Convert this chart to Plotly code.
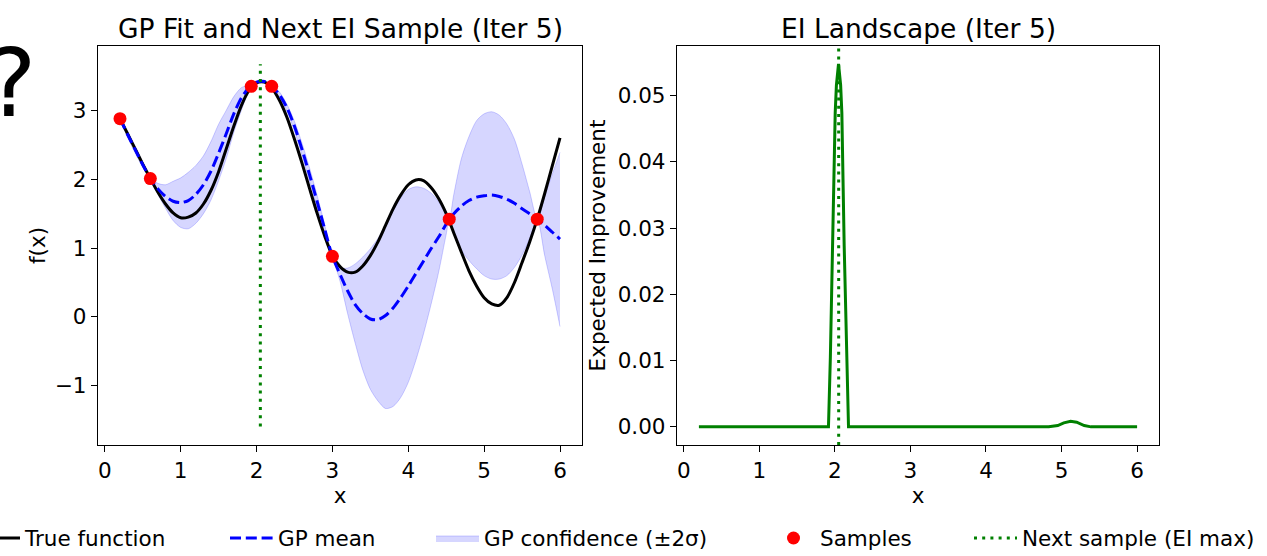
import plotly.graph_objects as go

# ---------------- data ----------------
true_x = [0.2, 0.3, 0.4, 0.5, 0.6, 0.7, 0.8, 0.9, 1.0, 1.1, 1.2, 1.3, 1.4, 1.5, 1.6, 1.7, 1.8, 1.9, 2.0,
          2.1, 2.2, 2.3, 2.4, 2.5, 2.6, 2.7, 2.8, 2.9, 3.0, 3.1, 3.2, 3.3, 3.4, 3.5, 3.6, 3.7, 3.8, 3.9,
          4.0, 4.1, 4.2, 4.3, 4.4, 4.5, 4.6, 4.7, 4.8, 4.9, 5.0, 5.1, 5.2, 5.3, 5.4, 5.5, 5.6, 5.7, 5.8,
          5.9, 6.0]
true_f = [2.88, 2.66, 2.44, 2.22, 2.01, 1.81, 1.64, 1.51, 1.44, 1.45, 1.51, 1.64, 1.84, 2.11, 2.44, 2.77, 3.07, 3.29, 3.40,
          3.41, 3.33, 3.15, 2.90, 2.58, 2.23, 1.86, 1.50, 1.17, 0.89, 0.73, 0.65, 0.65, 0.74, 0.89, 1.09, 1.33, 1.57, 1.77,
          1.92, 1.99, 1.98, 1.88, 1.72, 1.50, 1.22, 0.94, 0.67, 0.45, 0.28, 0.19, 0.17, 0.28, 0.50, 0.79, 1.09, 1.42, 1.80,
          2.20, 2.60]

band_x = [0.2, 0.3, 0.4, 0.5, 0.6, 0.7, 0.8, 0.9, 1.0, 1.1, 1.2, 1.3, 1.4, 1.5, 1.6, 1.7, 1.8, 1.9, 2.0,
          2.1, 2.2, 2.3, 2.4, 2.5, 2.6, 2.7, 2.8, 2.9, 3.0, 3.1, 3.2, 3.3, 3.4, 3.5, 3.6, 3.7, 3.8, 3.9,
          4.0, 4.1, 4.2, 4.3, 4.4, 4.5, 4.54, 4.6, 4.7, 4.8, 4.9, 5.0, 5.1, 5.2, 5.3, 5.4, 5.5, 5.6, 5.7,
          5.8, 5.9, 6.0]
gp_mean = [2.88, 2.65, 2.43, 2.21, 2.01, 1.86, 1.75, 1.68, 1.66, 1.69, 1.78, 1.92, 2.12, 2.38, 2.66, 2.95, 3.18, 3.33, 3.41,
           3.42, 3.35, 3.23, 3.04, 2.77, 2.43, 2.06, 1.67, 1.27, 0.88, 0.62, 0.38, 0.18, 0.05, -0.03, -0.04, 0.02, 0.13, 0.28,
           0.45, 0.63, 0.81, 0.99, 1.16, 1.35, 1.42, 1.50, 1.61, 1.69, 1.74, 1.76, 1.77, 1.75, 1.71, 1.65, 1.57, 1.50, 1.42,
           1.33, 1.23, 1.13]
gp_upper = [2.89, 2.69, 2.48, 2.25, 2.02, 1.94, 1.92, 1.97, 2.02, 2.10, 2.20, 2.34, 2.55, 2.80, 3.00, 3.20, 3.33, 3.37, 3.42,
            3.44, 3.36, 3.27, 3.09, 2.84, 2.52, 2.16, 1.76, 1.33, 0.89, 0.72, 0.71, 0.77, 0.87, 0.99, 1.14, 1.33, 1.54, 1.73,
            1.85, 1.89, 1.87, 1.80, 1.67, 1.50, 1.43, 1.78, 2.30, 2.62, 2.85, 2.95, 2.98, 2.93, 2.80, 2.58, 2.22, 1.82, 1.43,
            1.76, 2.08, 2.39]
gp_lower = [2.87, 2.61, 2.38, 2.17, 2.00, 1.78, 1.58, 1.40, 1.30, 1.28, 1.36, 1.50, 1.70, 1.98, 2.30, 2.68, 3.00, 3.28, 3.40,
            3.40, 3.34, 3.19, 2.99, 2.70, 2.34, 1.96, 1.58, 1.21, 0.87, 0.52, 0.05, -0.38, -0.77, -1.05, -1.22, -1.33, -1.30, -1.17,
            -0.95, -0.63, -0.25, 0.18, 0.65, 1.20, 1.41, 1.20, 0.97, 0.82, 0.70, 0.60, 0.55, 0.55, 0.60, 0.72, 0.90, 1.14, 1.41,
            0.88, 0.40, -0.14]

sample_x = [0.2, 0.6, 1.93, 2.2, 3.0, 4.54, 5.7]
sample_y = [2.88, 2.01, 3.35, 3.35, 0.88, 1.42, 1.42]

next_x = 2.05
next_line_y = [-1.59, 3.67]

ei_x = [0.2, 1.915, 1.94, 1.968, 2.004, 2.02, 2.048, 2.076, 2.092, 2.123, 2.155, 2.18,
        4.83, 4.95, 5.03, 5.12, 5.2, 5.3, 5.39, 6.0]
ei_y = [0, 0, 0.0105, 0.0273, 0.0474, 0.0516, 0.0548, 0.0516, 0.0474, 0.0273, 0.0105, 0,
        0, 0.0002, 0.0006, 0.00085, 0.0007, 0.0002, 0, 0]

titles = ["GP Fit and Next EI Sample (Iter 5)", "EI Landscape (Iter 5)"]
legend_names = ["True function", "GP mean", "GP confidence (±2σ)", "Samples", "Next sample (EI max)"]

# ---------------- figure ----------------
W, H = 1267, 556
FONT = "DejaVu Sans"
FS = 21.5


def fx(p):
    return p / W


def fy(p):
    return 1 - p / H


fig = go.Figure()

# confidence band
fig.add_trace(go.Scatter(x=band_x, y=gp_lower, mode="lines", line=dict(color="rgba(0,0,255,0.18)", width=1, shape="spline", smoothing=0.8),
                         showlegend=False, hoverinfo="skip", xaxis="x", yaxis="y"))
fig.add_trace(go.Scatter(x=band_x, y=gp_upper, mode="lines", fill="tonexty", fillcolor="rgba(0,0,255,0.16)",
                         line=dict(color="rgba(0,0,255,0.18)", width=1, shape="spline", smoothing=0.8),
                         name=legend_names[2], legend="legend3", xaxis="x", yaxis="y"))
# true function
fig.add_trace(go.Scatter(x=true_x, y=true_f, mode="lines", line=dict(color="black", width=3, shape="spline", smoothing=0.8),
                         name=legend_names[0], legend="legend", xaxis="x", yaxis="y"))
# GP mean
fig.add_trace(go.Scatter(x=band_x, y=gp_mean, mode="lines", line=dict(color="blue", width=3, dash="11px,4.8px", shape="spline", smoothing=0.8),
                         name=legend_names[1], legend="legend2", xaxis="x", yaxis="y"))
# samples
fig.add_trace(go.Scatter(x=sample_x, y=sample_y, mode="markers", marker=dict(color="red", size=13),
                         name=legend_names[3], legend="legend4", xaxis="x", yaxis="y"))
# next sample line (left)
fig.add_trace(go.Scatter(x=[next_x, next_x], y=next_line_y, mode="lines", line=dict(color="green", width=3, dash="3px,5.2px"),
                         name=legend_names[4], legend="legend5", xaxis="x", yaxis="y"))
# EI curve
fig.add_trace(go.Scatter(x=ei_x, y=ei_y, mode="lines", line=dict(color="green", width=3),
                         showlegend=False, xaxis="x2", yaxis="y2"))
# next sample line (right, full height)
fig.add_shape(type="line", xref="x2", yref="y2 domain", x0=next_x, x1=next_x, y0=0, y1=1,
              line=dict(color="green", width=3, dash="3px,5.2px"))

axis_common = dict(showline=True, linecolor="black", linewidth=1.3, mirror=True, ticks="outside",
                   ticklen=6, tickwidth=1.2, tickcolor="black", showgrid=False, zeroline=False,
                   automargin=False, tickfont=dict(family=FONT, size=FS, color="black"))

yd = [fy(445), fy(46)]
fig.update_layout(
    width=W, height=H, margin=dict(l=0, r=0, t=0, b=0, autoexpand=False),
    paper_bgcolor="white", plot_bgcolor="white",
    font=dict(family=FONT, size=FS, color="black"),
    xaxis=dict(domain=[fx(98), fx(582)], range=[-0.09, 6.29], dtick=1, tick0=0, anchor="y",
               title=dict(text="x", standoff=5, font=dict(size=FS)), **axis_common),
    yaxis=dict(domain=yd, range=[-1.86, 3.935], dtick=1, tick0=0, anchor="x",
               title=dict(text="f(x)", standoff=3, font=dict(size=FS)), **axis_common),
    xaxis2=dict(domain=[fx(677), fx(1159)], range=[-0.09, 6.29], dtick=1, tick0=0, anchor="y2",
                title=dict(text="x", standoff=5, font=dict(size=FS)), **axis_common),
    yaxis2=dict(domain=yd, range=[-0.00274, 0.0575], dtick=0.01, tick0=0, tickformat=".2f", anchor="x2",
                title=dict(text="Expected Improvement", standoff=6, font=dict(size=FS)), **axis_common),
)

leg_common = dict(orientation="h", yanchor="middle", y=fy(538), xanchor="left",
                  bgcolor="rgba(0,0,0,0)", font=dict(family=FONT, size=FS, color="black"), itemwidth=43)
text_starts = [25, 278, 484, 820, 1022]
OFF = 53
fig.update_layout(
    legend=dict(x=fx(text_starts[0] - OFF), **leg_common),
    legend2=dict(x=fx(text_starts[1] - OFF), **leg_common),
    legend3=dict(x=fx(text_starts[2] - OFF), **leg_common),
    legend4=dict(x=fx(text_starts[3] - OFF), **leg_common),
    legend5=dict(x=fx(text_starts[4] - OFF), **leg_common),
)

fig.add_annotation(text=titles[0], x=fx(340), y=fy(28), xref="paper", yref="paper", showarrow=False,
                   xanchor="center", yanchor="middle", font=dict(family=FONT, size=26.5, color="black"))
fig.add_annotation(text=titles[1], x=fx(918), y=fy(28), xref="paper", yref="paper", showarrow=False,
                   xanchor="center", yanchor="middle", font=dict(family=FONT, size=26.5, color="black"))
fig.add_annotation(text="?", x=fx(38), y=fy(83), xref="paper", yref="paper", showarrow=False,
                   xanchor="right", yanchor="middle", font=dict(family=FONT, size=95, color="black"))

fig.write_html("out.html")
